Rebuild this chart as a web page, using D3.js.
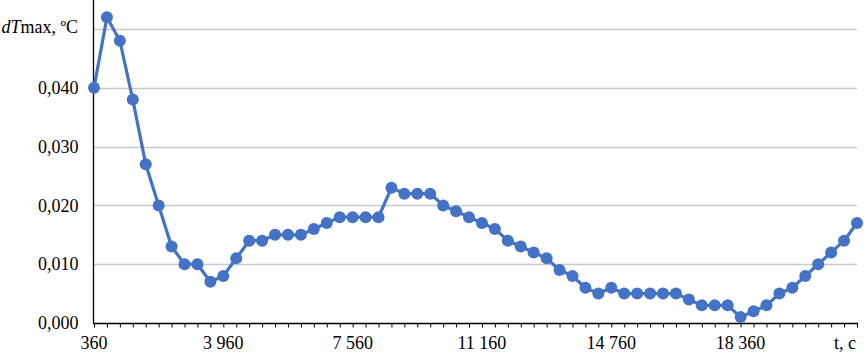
<!DOCTYPE html>
<html>
<head>
<meta charset="utf-8">
<script src="https://cdn.jsdelivr.net/npm/d3@7"></script>
<style>
  body { margin: 0; background: #fff; }
  svg { display: block; font-family: "Liberation Serif", "Times New Roman", serif; }
</style>
</head>
<body>
<svg id="chart" width="864" height="354"></svg>
<script>
// time, s (every 360 s)
const times = d3.range(60).map(i => 360 + i * 360);
// dTmax, ºC
const dTmax = [
    0.040, 0.052, 0.048, 0.038, 0.027, 0.020, 0.013, 0.010, 0.010, 0.007,
    0.008, 0.011, 0.014, 0.014, 0.015, 0.015, 0.015, 0.016, 0.017, 0.018,
    0.018, 0.018, 0.018, 0.023, 0.022, 0.022, 0.022, 0.020, 0.019, 0.018,
    0.017, 0.016, 0.014, 0.013, 0.012, 0.011, 0.009, 0.008, 0.006, 0.005,
    0.006, 0.005, 0.005, 0.005, 0.005, 0.005, 0.004, 0.003, 0.003, 0.003,
    0.001, 0.002, 0.003, 0.005, 0.006, 0.008, 0.010, 0.012, 0.014, 0.017
];
const xLabelTicks = [360, 3960, 7560, 11160, 14760, 18360];
const yLabelTicks = [0, 0.01, 0.02, 0.03, 0.04];
const yGridTicks = [0.01, 0.02, 0.03, 0.04, 0.05];

const data = times.map((t, i) => ({t: t, v: dTmax[i]}));

const width = 864;
const height = 354;
const margin = {top: 0, right: 7, bottom: 31, left: 93};

const locale = d3.formatLocale({decimal: ",", thousands: " ", grouping: [3], currency: ["", ""]});
const fmtX = locale.format(",d");
const fmtY = locale.format(".3f");

const x = d3.scaleLinear()
    .domain([360, 21600])
    .range([margin.left + 1, width - margin.right]);

const y = d3.scaleLinear()
    .domain([0, 0.05])
    .range([height - margin.bottom, 29]);

const svg = d3.select("#chart");

// gridlines
svg.append("g")
    .selectAll("line")
    .data(yGridTicks)
    .join("line")
    .attr("x1", margin.left)
    .attr("x2", width - margin.right)
    .attr("y1", d => Math.round(y(d)) + 0.5)
    .attr("y2", d => Math.round(y(d)) + 0.5)
    .attr("stroke", "#c8c8c8")
    .attr("stroke-width", 1.3);

// y axis
const yAxis = svg.append("g")
    .attr("transform", `translate(${margin.left + 0.5},0)`)
    .call(d3.axisLeft(y).tickValues(yLabelTicks).tickFormat(fmtY).tickSize(0).tickPadding(15));
yAxis.select(".domain").remove();
yAxis.selectAll("text")
    .attr("font-family", "Liberation Serif, Times New Roman, serif")
    .attr("font-size", 18)
    .attr("fill", "#000");
svg.append("line")
    .attr("x1", margin.left + 0.5).attr("x2", margin.left + 0.5)
    .attr("y1", 0).attr("y2", height - margin.bottom)
    .attr("stroke", "#000")
    .attr("stroke-width", 1.3);

// x axis with minor ticks every 360 s
const xAxis = svg.append("g")
    .attr("transform", `translate(0,${height - margin.bottom + 0.5})`)
    .call(d3.axisBottom(x).tickValues(times).tickSize(4).tickFormat(""));
xAxis.select(".domain")
    .attr("d", `M${margin.left},0H${width - margin.right + 1}`)
    .attr("stroke-width", 1.3);
xAxis.selectAll(".tick line").attr("stroke-width", 1);

svg.append("g")
    .attr("font-size", 18)
    .attr("text-anchor", "middle")
    .selectAll("text")
    .data(xLabelTicks)
    .join("text")
    .attr("x", d => x(d))
    .attr("y", 349)
    .text(d => fmtX(d));

// axis titles
svg.append("text")
    .attr("x", 856)
    .attr("y", 349)
    .attr("font-size", 18)
    .attr("text-anchor", "end")
    .text("t, c");

const title = svg.append("text")
    .attr("x", 78)
    .attr("y", 33)
    .attr("font-size", 18)
    .attr("text-anchor", "end");
title.append("tspan").attr("font-style", "italic").text("dT");
title.append("tspan").text("max, ºC");

// line and markers
const line = d3.line()
    .x(d => x(d.t))
    .y(d => y(d.v));

svg.append("path")
    .datum(data)
    .attr("fill", "none")
    .attr("stroke", "#4472c4")
    .attr("stroke-width", 3.2)
    .attr("stroke-linejoin", "round")
    .attr("d", line);

svg.append("g")
    .attr("fill", "#4472c4")
    .selectAll("circle")
    .data(data)
    .join("circle")
    .attr("cx", d => x(d.t))
    .attr("cy", d => y(d.v))
    .attr("r", 6);
</script>
</body>
</html>
